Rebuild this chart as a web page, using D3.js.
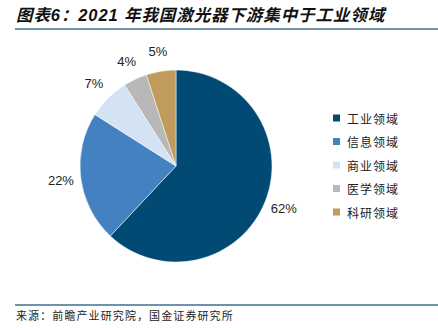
<!DOCTYPE html>
<html>
<head>
<meta charset="utf-8">
<script src="https://cdn.jsdelivr.net/npm/d3@7"></script>
<style>
  html, body { margin: 0; padding: 0; background: #fff; }
  svg { display: block; }
</style>
</head>
<body>
<svg id="chart" width="438" height="328"></svg>
<script>
// Downstream application share of China's laser market, 2021
const categories = ["工业领域", "信息领域", "商业领域", "医学领域", "科研领域"];
const shares = [62, 22, 7, 4, 5];
const colors = ["#004a73", "#4381c1", "#d3e3f4", "#b8b8b8", "#c19b5c"];

const titleText = "图表6：2021 年我国激光器下游集中于工业领域";
const sourceText = "来源：前瞻产业研究院，国金证券研究所";

const svg = d3.select("#chart");
const W = 438, H = 328;

// Title
svg.append("text")
  .attr("x", 16).attr("y", 21)
  .attr("font-family", "'Liberation Sans', 'Noto Sans CJK SC', sans-serif")
  .attr("font-size", 16.5)
  .attr("font-weight", "bold")
  .attr("font-style", "italic")
  .attr("letter-spacing", 0.9)
  .attr("fill", "#111")
  .text(titleText);

// Rules under the title and above the source
svg.append("line")
  .attr("x1", 15).attr("x2", W).attr("y1", 29).attr("y2", 29)
  .attr("stroke", "#3f6f92").attr("stroke-width", 1.5);
svg.append("line")
  .attr("x1", 15).attr("x2", W).attr("y1", 305).attr("y2", 305)
  .attr("stroke", "#3f6f92").attr("stroke-width", 1.5);

// Source note
svg.append("text")
  .attr("x", 16).attr("y", 320)
  .attr("font-family", "'Noto Sans CJK SC', sans-serif")
  .attr("font-size", 11)
  .attr("letter-spacing", 1.1)
  .attr("fill", "#222")
  .text(sourceText);

// Pie
const cx = 176, cy = 166, R = 96, labelR = 116;
const data = categories.map((c, i) => ({ cat: c, value: shares[i], color: colors[i] }));

const pie = d3.pie().value(d => d.value).sort(null);
const arc = d3.arc().innerRadius(0).outerRadius(R);
const labelArc = d3.arc().innerRadius(labelR).outerRadius(labelR);

const g = svg.append("g").attr("transform", `translate(${cx},${cy})`);
const arcs = pie(data);

g.selectAll("path.slice")
  .data(arcs)
  .join("path")
  .attr("class", "slice")
  .attr("d", arc)
  .attr("fill", d => d.data.color)
  .attr("stroke", "#fff")
  .attr("stroke-width", 0.5);

g.selectAll("text.pct")
  .data(arcs)
  .join("text")
  .attr("class", "pct")
  .attr("transform", d => `translate(${labelArc.centroid(d)})`)
  .attr("text-anchor", "middle")
  .attr("dominant-baseline", "central")
  .attr("font-family", "'Liberation Sans', Arial, sans-serif")
  .attr("font-size", 13)
  .attr("fill", "#222")
  .text(d => d.data.value + "%");

// Legend
const legendX = 333, legendY0 = 118, legendStep = 23.5;
const legend = svg.append("g");
const items = legend.selectAll("g")
  .data(data)
  .join("g")
  .attr("transform", (d, i) => `translate(${legendX},${legendY0 + i * legendStep})`);
items.append("rect")
  .attr("x", 0).attr("y", -3.5)
  .attr("width", 7).attr("height", 7)
  .attr("fill", d => d.color);
items.append("text")
  .attr("x", 14).attr("y", 0)
  .attr("dominant-baseline", "central")
  .attr("font-family", "'Noto Sans CJK SC', sans-serif")
  .attr("font-size", 12)
  .attr("letter-spacing", 1)
  .attr("fill", "#222")
  .text(d => d.cat);
</script>
</body>
</html>
